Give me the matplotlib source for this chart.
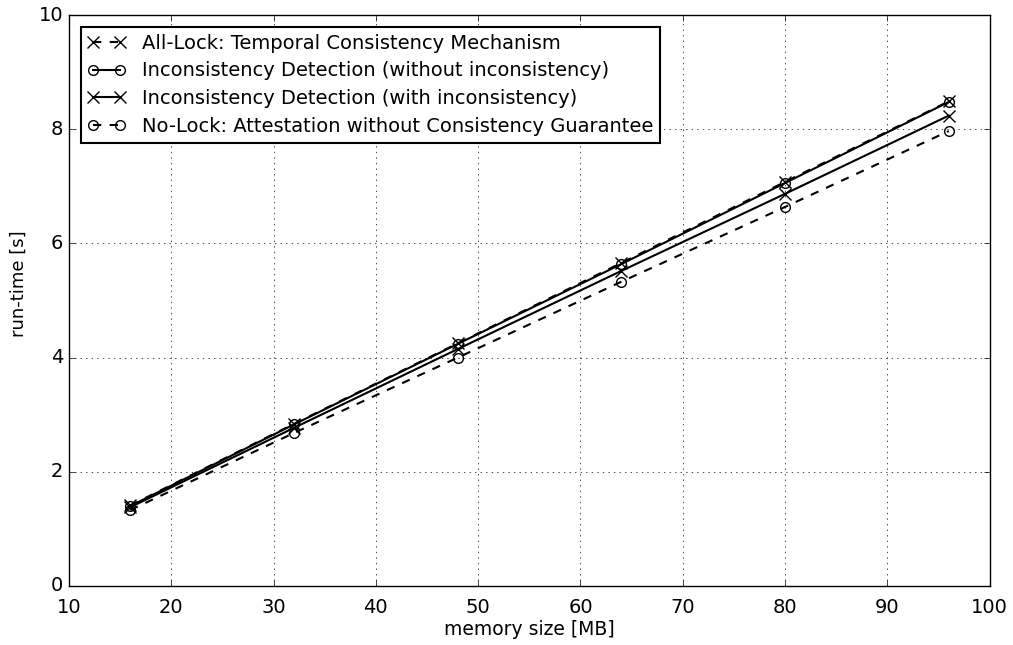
import numpy as np
import matplotlib
matplotlib.use('Agg')
import matplotlib.pyplot as plt

plt.style.use('classic')

mem_mb = [16, 32, 48, 64, 80, 96]

all_lock = [1.41, 2.84, 4.25, 5.66, 7.08, 8.49]
detect_no_incons = [1.40, 2.83, 4.24, 5.64, 7.06, 8.48]
detect_incons = [1.38, 2.77, 4.15, 5.52, 6.87, 8.24]
no_lock = [1.33, 2.68, 4.00, 5.33, 6.64, 7.97]

fig = plt.figure(figsize=(10.13, 6.45), dpi=100)
fig.patch.set_facecolor('white')
ax = fig.add_axes([0.068, 0.0915, 0.909, 0.885])

style = dict(color='k', linewidth=1.5, mfc='none', mew=1.0)
ax.plot(mem_mb, all_lock, '--', marker='x', markersize=8,
        label='All-Lock: Temporal Consistency Mechanism', **style)
ax.plot(mem_mb, detect_no_incons, '-', marker='o', markersize=7,
        label='Inconsistency Detection (without inconsistency)', **style)
ax.plot(mem_mb, detect_incons, '-', marker='x', markersize=8,
        label='Inconsistency Detection (with inconsistency)', **style)
ax.plot(mem_mb, no_lock, '--', marker='o', markersize=7,
        label='No-Lock: Attestation without Consistency Guarantee', **style)

ax.set_xlim(10, 100)
ax.set_ylim(0, 10)
ax.set_xlabel('memory size [MB]', fontsize=13.5, labelpad=2)
ax.set_ylabel('run-time [s]', fontsize=13)
ax.yaxis.set_label_coords(-0.045, 0.53)
ax.tick_params(labelsize=14)
ax.tick_params(axis='x', pad=9)
ax.grid(True, linestyle=':', color='k')

leg = ax.legend(loc='upper left', fontsize=14, numpoints=2, fancybox=False,
                handlelength=2.0, borderpad=0.35, labelspacing=0.45,
                borderaxespad=0.6)
leg.get_frame().set_linewidth(1.5)

fig.savefig('out.png', dpi=100, facecolor='white')
